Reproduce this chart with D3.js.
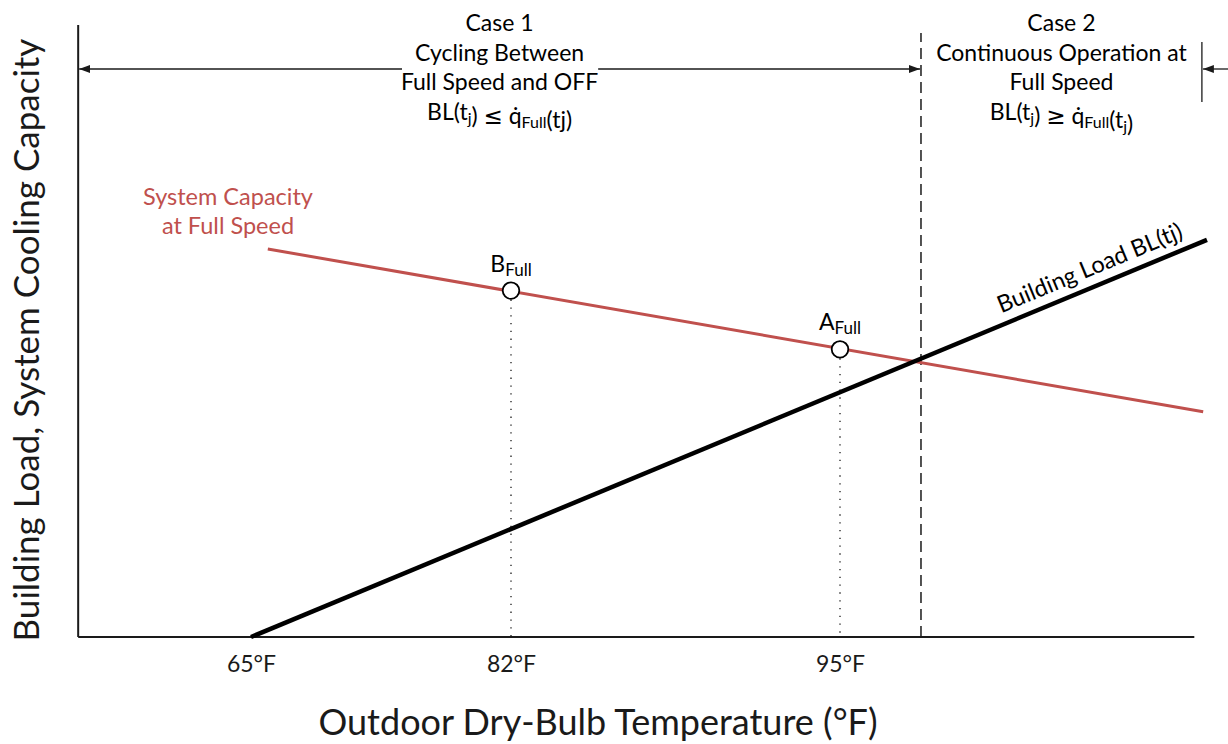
<!DOCTYPE html>
<html>
<head>
<meta charset="utf-8">
<script src="https://cdn.jsdelivr.net/npm/d3@7"></script>
<style>
  body { margin: 0; background: #fff; }
  svg { font-family: Lato, "Open Sans", sans-serif; }
</style>
</head>
<body>
<svg id="chart" width="1228" height="744"></svg>
<script>
// values (temperature in °F, load in arbitrary units 0-100)
let tickTemps = [65, 82, 95];
let axisTemps = [53.7, 109];
let balanceTemp = 98.2;
let case2EdgeTemp = 109.3;

let loadLine = [{ t: 65, v: 0 }, { t: 109.5, v: 64.9 }];
let capacityLine = [{ t: 66.1, v: 63.4 }, { t: 109.35, v: 36.8 }];
let ratingPoints = [
    { t: 82, v: 56.6, name: "B" },
    { t: 95, v: 47.0, name: "A" }
];

let case1Lines = ["Case 1", "Cycling Between", "Full Speed and OFF",
    [{ s: "BL(t" }, { s: "j", sub: true }, { s: ") " }, { s: "\u2264", sym: true }, { s: " q\u0307" }, { s: "Full", sub: true }, { s: "(tj)" }]];
let case2Lines = ["Case 2", "Continuous Operation at", "Full Speed",
    [{ s: "BL(t" }, { s: "j", sub: true }, { s: ") " }, { s: "\u2265", sym: true }, { s: " q\u0307" }, { s: "Full", sub: true }, { s: "(t" }, { s: "j", sub: true }, { s: ")" }]];

let red = "#C0504D";
let ink = "#1a1a1a";

let svg = d3.select("#chart");

// schematic axis: the tick spacing is not uniform, so use a piecewise scale
let x = d3.scaleLinear().domain(tickTemps).range([251, 511, 840]);
let y = d3.scaleLinear().domain([0, 100]).range([637, 25]);

let defs = svg.append("defs");
defs.append("marker")
    .attr("id", "arrow")
    .attr("viewBox", "0 0 11 8")
    .attr("markerUnits", "userSpaceOnUse")
    .attr("markerWidth", 11)
    .attr("markerHeight", 8)
    .attr("refX", 11)
    .attr("refY", 4)
    .attr("orient", "auto")
    .append("path")
    .attr("d", "M0,0 L11,4 L0,8 Z")
    .attr("fill", ink);

// axes lines
svg.append("line")
    .attr("x1", x(axisTemps[0])).attr("x2", x(axisTemps[0]))
    .attr("y1", y(0)).attr("y2", y(100))
    .attr("stroke", ink).attr("stroke-width", 2);

svg.append("line")
    .attr("x1", x(axisTemps[0])).attr("x2", x(axisTemps[1]))
    .attr("y1", y(0)).attr("y2", y(0))
    .attr("stroke", ink).attr("stroke-width", 2);

let xAxis = svg.append("g")
    .attr("transform", "translate(0," + y(0) + ")")
    .call(d3.axisBottom(x).tickValues(tickTemps).tickSize(0).tickFormat(d => d + "°F"));
xAxis.select(".domain").remove();
xAxis.selectAll("text")
    .attr("y", 35).attr("dy", 0)
    .attr("font-size", 23)
    .attr("font-family", "Lato, sans-serif")
    .attr("fill", ink);

// axis titles
svg.append("text")
    .attr("x", 598).attr("y", 735)
    .attr("text-anchor", "middle")
    .attr("font-size", 36)
    .attr("fill", ink)
    .text("Outdoor Dry-Bulb Temperature (°F)");

svg.append("text")
    .attr("transform", "translate(39," + 340 + ") rotate(-90)")
    .attr("text-anchor", "middle")
    .attr("font-size", 35)
    .attr("fill", ink)
    .text("Building Load, System Cooling Capacity");

// balance point divider
svg.append("line")
    .attr("x1", x(balanceTemp)).attr("x2", x(balanceTemp))
    .attr("y1", y(0)).attr("y2", y(98.7))
    .attr("stroke", ink).attr("stroke-width", 1.5)
    .attr("stroke-dasharray", "11,6");

// dotted drops from the rating points
svg.selectAll(".drop")
    .data(ratingPoints).enter()
    .append("line")
    .attr("class", "drop")
    .attr("x1", d => x(d.t)).attr("x2", d => x(d.t))
    .attr("y1", d => y(d.v) + 9).attr("y2", y(0))
    .attr("stroke", ink).attr("stroke-width", 1.3)
    .attr("stroke-dasharray", "1.3,6.5");

let line = d3.line().x(d => x(d.t)).y(d => y(d.v));

svg.append("path")
    .attr("d", line(capacityLine))
    .attr("fill", "none")
    .attr("stroke", red)
    .attr("stroke-width", 3);

svg.append("path")
    .attr("d", line(loadLine))
    .attr("fill", "none")
    .attr("stroke", "#000")
    .attr("stroke-width", 4.5);

svg.selectAll(".pt")
    .data(ratingPoints).enter()
    .append("circle")
    .attr("class", "pt")
    .attr("cx", d => x(d.t))
    .attr("cy", d => y(d.v))
    .attr("r", 8.3)
    .attr("fill", "#fff")
    .attr("stroke", "#000")
    .attr("stroke-width", 1.8);

// rich text helper for subscripts
function richText(sel, parts, subSize) {
    parts.forEach(p => {
        let ts = sel.append("tspan")
            .attr("dy", p.sub ? 4 : 0)
            .attr("font-size", p.sub ? subSize : null)
            .text(p.s);
        if (p.sym) ts.attr("font-family", "'Noto Sans', 'DejaVu Sans', sans-serif");
        if (p.sub) sel.append("tspan").attr("dy", -4).text("");
    });
}

ratingPoints.forEach(d => {
    let t = svg.append("text")
        .attr("x", x(d.t))
        .attr("y", y(d.v) - 19)
        .attr("text-anchor", "middle")
        .attr("font-size", 23)
        .attr("fill", "#000");
    richText(t, [{ s: d.name }, { s: "Full", sub: true }], 17);
});

// series labels
let capLabel = svg.append("text")
    .attr("text-anchor", "middle")
    .attr("font-size", 23.5)
    .attr("fill", red);
capLabel.append("tspan").attr("x", 228).attr("y", 205).text("System Capacity");
capLabel.append("tspan").attr("x", 228).attr("y", 234).text("at Full Speed");

let p0 = [x(loadLine[0].t), y(loadLine[0].v)];
let p1 = [x(loadLine[1].t), y(loadLine[1].v)];
let ang = Math.atan2(p1[1] - p0[1], p1[0] - p0[0]);
let f = 0.885;
let lx = p0[0] + f * (p1[0] - p0[0]) + 11 * Math.sin(ang);
let ly = p0[1] + f * (p1[1] - p0[1]) - 11 * Math.cos(ang);
svg.append("text")
    .attr("transform", "translate(" + lx + "," + ly + ") rotate(" + (ang * 180 / Math.PI) + ")")
    .attr("text-anchor", "middle")
    .attr("font-size", 23.5)
    .attr("fill", "#000")
    .text("Building Load BL(tj)");

// case annotations
function caseBlock(lines, cx) {
    let g = svg.append("g");
    lines.forEach((l, i) => {
        let t = g.append("text")
            .attr("x", cx)
            .attr("y", 31 + i * 29.7)
            .attr("text-anchor", "middle")
            .attr("font-size", 23)
            .attr("fill", "#000");
        if (typeof l === "string") t.text(l);
        else richText(t, l, 16);
    });
    return g;
}

let c1x = (x(axisTemps[0]) + x(balanceTemp)) / 2;
let c2x = (x(balanceTemp) + x(case2EdgeTemp)) / 2;
let c1 = caseBlock(case1Lines, c1x);
caseBlock(case2Lines, c2x);

let arrowY = 69;
let gapBox = c1.selectAll("text").nodes()[1].getBBox();

svg.append("line")
    .attr("x1", gapBox.x - 13).attr("x2", x(axisTemps[0]) + 1)
    .attr("y1", arrowY).attr("y2", arrowY)
    .attr("stroke", ink).attr("stroke-width", 1.3)
    .attr("marker-end", "url(#arrow)");

svg.append("line")
    .attr("x1", gapBox.x + gapBox.width + 14).attr("x2", x(balanceTemp) - 1)
    .attr("y1", arrowY).attr("y2", arrowY)
    .attr("stroke", ink).attr("stroke-width", 1.3)
    .attr("marker-end", "url(#arrow)");

svg.append("line")
    .attr("x1", x(case2EdgeTemp)).attr("x2", x(case2EdgeTemp))
    .attr("y1", 42).attr("y2", 102)
    .attr("stroke", ink).attr("stroke-width", 1.3);

svg.append("line")
    .attr("x1", 1230).attr("x2", x(case2EdgeTemp) + 1)
    .attr("y1", arrowY).attr("y2", arrowY)
    .attr("stroke", ink).attr("stroke-width", 1.3)
    .attr("marker-end", "url(#arrow)");
</script>
</body>
</html>
